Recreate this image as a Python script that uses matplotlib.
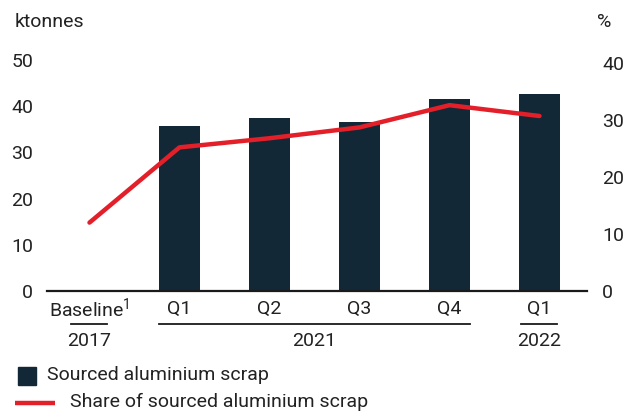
import numpy as np
import matplotlib
matplotlib.use("Agg")
import matplotlib.pyplot as plt
from matplotlib.patches import Rectangle
from matplotlib.lines import Line2D
import matplotlib.transforms as mtransforms

plt.rcParams['font.family'] = ['Roboto', 'DejaVu Sans']
plt.rcParams['mathtext.fontset'] = 'custom'
plt.rcParams['mathtext.rm'] = 'Roboto'

# Data
categories = ["Baseline$^{\\mathregular{1}}$", "Q1", "Q2", "Q3", "Q4", "Q1"]
years = ["2017", "2021", "2022"]
year_groups = [(0, 0), (1, 4), (5, 5)]
scrap_kt = [np.nan, 35.7, 37.4, 36.6, 41.6, 42.6]
share_pct = [12.0, 25.2, 26.8, 28.7, 32.6, 30.7]
left_ticks = [0, 10, 20, 30, 40, 50]
right_ticks = [0, 10, 20, 30, 40]

NAVY = "#132836"
RED = "#e3202a"
TEXT = "#222222"
FS = 14

W, H = 627, 411
fig = plt.figure(figsize=(W / 100, H / 100), dpi=100)


def fx(px):
    return px / W


def fy(py):
    return 1 - py / H


ax = fig.add_axes([fx(47), fy(291), (587 - 47) / W, (291 - 60) / H])
x = np.arange(len(categories))

ax.bar(x, scrap_kt, width=0.455, color=NAVY, zorder=2)
ax.set_xlim(-0.472, 5.528)
ax.set_ylim(0, 50)
ax.set_yticks(left_ticks)
ax.set_xticks([])
ax.tick_params(axis='y', length=0, pad=10, labelsize=FS, labelcolor=TEXT)
for s in ("top", "left", "right"):
    ax.spines[s].set_visible(False)
ax.spines["bottom"].set_linewidth(1.6)
ax.spines["bottom"].set_color("#1a1a1a")
ax.spines["bottom"].set_zorder(5)

ax2 = ax.twinx()
ax2.plot(x, share_pct, color=RED, lw=3.2, solid_capstyle='round',
         solid_joinstyle='round', zorder=3)
ax2.set_ylim(0, 40 * 231 / 228)
ax2.set_yticks(right_ticks)
ax2.tick_params(axis='y', length=0, pad=11, labelsize=FS, labelcolor=TEXT)
for s in ("top", "left", "right", "bottom"):
    ax2.spines[s].set_visible(False)

# Category and year labels below the axis
trans = mtransforms.blended_transform_factory(ax.transData, fig.transFigure)
for xi, lab in zip(x, categories):
    ax.text(xi, fy(309), lab, transform=trans, ha='center', va='center',
            fontsize=FS, color=TEXT)

for (a, b), yr in zip(year_groups, years):
    if a == b:
        x0, x1 = a - 0.2, b + 0.2
    else:
        x0, x1 = a - 0.228, b + 0.228
    fig.add_artist(Line2D([x0, x1], [fy(323.5), fy(323.5)], transform=trans,
                          color="#1a1a1a", lw=1.3))
    ax.text((a + b) / 2, fy(341), yr, transform=trans, ha='center',
            va='center', fontsize=FS, color=TEXT)

# Axis titles
fig.text(fx(15), fy(22), "ktonnes", ha='left', va='center', fontsize=FS,
         color=TEXT)
fig.text(fx(604), fy(22), "%", ha='center', va='center', fontsize=FS,
         color=TEXT)

# Legend
fig.add_artist(Rectangle((fx(18), fy(385)), 18 / W, 18 / H,
                         transform=fig.transFigure, color=NAVY))
fig.text(fx(47), fy(375), "Sourced aluminium scrap", ha='left', va='center',
         fontsize=FS, color=TEXT)
fig.add_artist(Line2D([fx(15), fx(55)], [fy(403), fy(403)],
                      transform=fig.transFigure, color=RED, lw=3.2,
                      solid_capstyle='butt'))
fig.text(fx(70), fy(402), "Share of sourced aluminium scrap", ha='left',
         va='center', fontsize=FS, color=TEXT)

fig.savefig("out.png", dpi=100)
